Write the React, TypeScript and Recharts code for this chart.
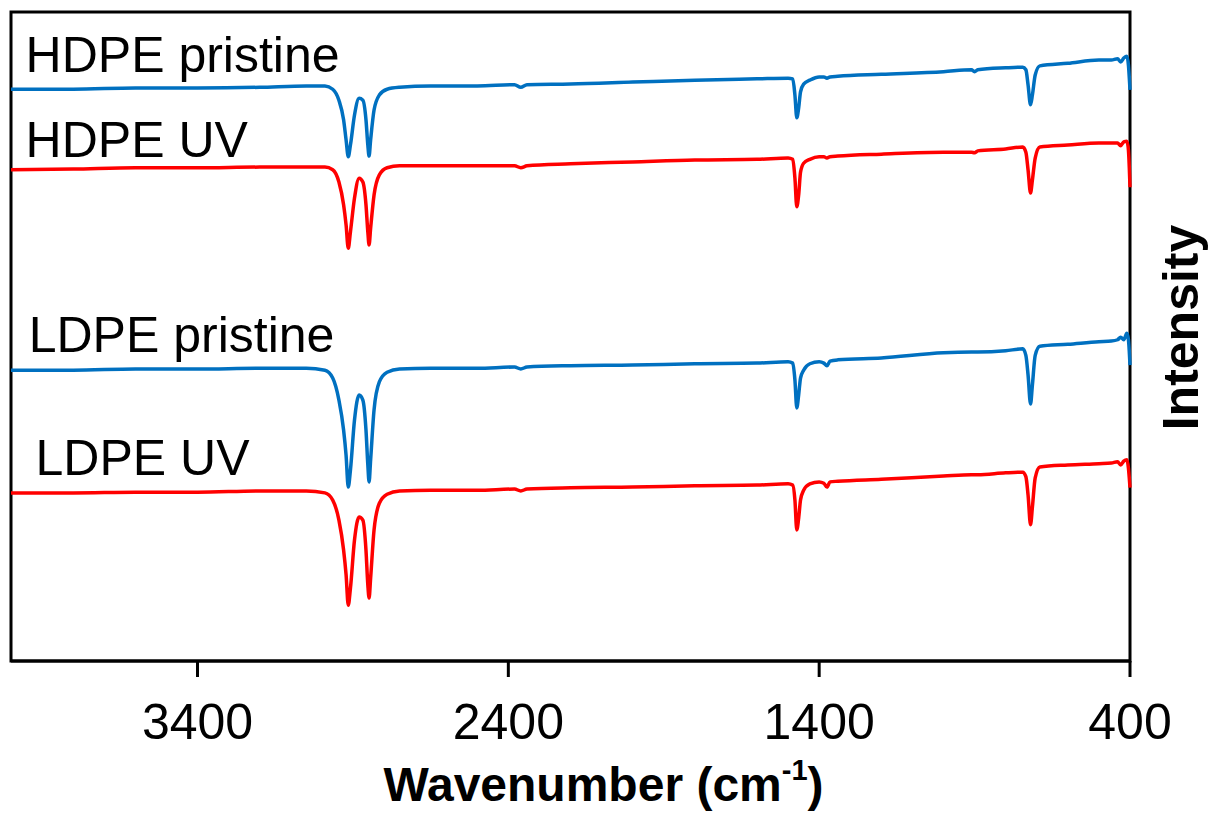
import { LineChart, Line, XAxis, YAxis, ReferenceArea, ReferenceDot } from 'recharts';

// wavenumber (cm-1), shared by all four spectra
const wavenumbers = [
  4000, 3800, 3600, 3400, 3200, 3050, 2990, 2965, 2945, 2930, 2922, 2915, 2908, 2895, 2880, 2868, 2858,
  2852, 2848, 2843, 2832, 2815, 2790, 2750, 2650, 2500, 2380, 2360, 2340, 2200, 2000, 1800, 1600, 1500,
  1485, 1478, 1472, 1466, 1460, 1450, 1430, 1400, 1385, 1375, 1365, 1340, 1200, 1000, 910, 900, 890, 800,
  745, 735, 728, 720, 714, 705, 690, 600, 500, 460, 440, 430, 420, 410, 405, 400,
];

// stacked intensity (a.u.)
const hdpePristine = [
  88.1, 88.1, 88.3, 88.3, 88.4, 88.6, 88.6, 88.1, 86.4, 83.4, 80.3, 77.7, 79.5, 84.1, 86.7, 86.4, 83.4,
  79.5, 77.8, 80.3, 84.9, 87.2, 88.1, 88.4, 88.6, 88.6, 88.8, 88.4, 88.8, 88.9, 89.2, 89.5, 89.7, 89.8,
  89.7, 87.2, 83.7, 85.2, 87.7, 88.9, 89.5, 90.0, 90.0, 89.8, 90.0, 90.1, 90.4, 90.8, 91.1, 90.8, 91.1, 91.4,
  91.5, 91.1, 88.8, 85.7, 87.2, 90.3, 91.7, 92.1, 92.6, 92.6, 92.8, 92.3, 92.9, 93.2, 91.8, 88.0,
];
const hdpeUv = [
  75.7, 75.8, 76.0, 76.0, 76.1, 76.1, 76.1, 75.7, 73.8, 70.3, 67.2, 63.6, 66.1, 71.3, 74.4, 73.8, 70.3,
  66.1, 64.1, 66.7, 71.8, 74.9, 76.0, 76.3, 76.3, 76.3, 76.3, 76.0, 76.3, 76.6, 76.9, 77.2, 77.3, 77.5,
  77.3, 74.4, 70.0, 71.8, 75.3, 76.7, 77.3, 77.7, 77.7, 77.5, 77.7, 77.8, 78.1, 78.4, 78.4, 78.3, 78.6, 78.9,
  79.2, 78.4, 75.7, 72.1, 74.1, 77.5, 79.2, 79.5, 79.8, 79.8, 79.8, 79.4, 80.0, 80.1, 78.7, 73.0,
];
const ldpePristine = [
  44.8, 44.8, 45.0, 45.0, 45.1, 45.1, 44.8, 43.6, 40.2, 35.6, 31.7, 26.8, 29.4, 37.1, 41.0, 40.2, 35.6,
  30.2, 27.6, 31.0, 38.7, 43.0, 44.5, 45.0, 45.1, 45.1, 45.3, 45.0, 45.3, 45.5, 45.6, 45.8, 45.9, 46.1,
  45.9, 43.3, 39.0, 41.0, 43.6, 44.8, 45.8, 46.1, 45.9, 45.5, 46.2, 46.4, 46.7, 47.5, 47.6, 47.6, 47.6, 47.8,
  48.1, 47.1, 44.1, 39.6, 42.5, 47.1, 48.5, 48.8, 49.2, 49.3, 49.5, 49.9, 49.5, 50.5, 49.5, 45.6,
];
const ldpeUv = [
  25.9, 25.9, 26.0, 26.0, 26.2, 26.2, 25.9, 24.8, 21.7, 17.1, 13.3, 8.6, 11.2, 18.6, 22.2, 21.7, 17.1,
  11.7, 9.7, 12.8, 20.2, 24.3, 25.7, 26.2, 26.3, 26.3, 26.5, 26.2, 26.5, 26.7, 26.8, 27.0, 27.1, 27.3,
  27.1, 24.8, 20.2, 22.0, 24.8, 26.3, 27.3, 27.6, 27.4, 26.8, 27.6, 27.7, 28.0, 28.5, 28.7, 28.7, 28.7, 29.0,
  29.1, 28.4, 25.6, 21.0, 23.7, 28.2, 29.9, 30.2, 30.4, 30.5, 30.7, 30.2, 30.8, 31.0, 29.7, 26.7,
];

const xTicks = [3400, 2400, 1400, 400];

// sample names, placed at (wavenumber, intensity) of the text baseline start
const labelNames = ['HDPE pristine', 'HDPE UV', 'LDPE pristine', 'LDPE UV'];
const labelWn = [3953, 3953, 3943, 3921];
const labelLevel = [90.8, 77.7, 47.6, 28.7];

const BLUE = '#0070C0';
const RED = '#FF0000';
const FONT = '"Liberation Sans", Arial, sans-serif';

const data = wavenumbers.map((wn, i) => ({
  wn,
  hdpePristine: hdpePristine[i],
  hdpeUv: hdpeUv[i],
  ldpePristine: ldpePristine[i],
  ldpeUv: ldpeUv[i],
}));

const series = [
  { key: 'hdpePristine', color: BLUE },
  { key: 'hdpeUv', color: RED },
  { key: 'ldpePristine', color: BLUE },
  { key: 'ldpeUv', color: RED },
];

function XTitle(props: any) {
  const vb = props.viewBox;
  const cx = vb.x + vb.width / 2 + 33;
  return (
    <text x={cx} y={801} textAnchor="middle" fontFamily={FONT} fontSize={48} fontWeight="bold" fill="#000">
      Wavenumber (cm
      <tspan fontSize={29} dy={-21}>-1</tspan>
      <tspan dy={21}>)</tspan>
    </text>
  );
}

function YTitle(props: any) {
  const vb = props.viewBox;
  const x = vb.x + 68;
  const y = vb.y + vb.height / 2 - 9;
  return (
    <text x={x} y={y} transform={`rotate(-90 ${x} ${y})`} textAnchor="middle"
      fontFamily={FONT} fontSize={50} fontWeight="bold" fill="#000">
      Intensity
    </text>
  );
}

export default function App() {
  return (
    <div style={{ position: 'absolute', left: 0, top: 0, background: '#fff' }}>
      <LineChart width={1210} height={816} data={data} margin={{ top: 12, right: 0, bottom: 0, left: 11 }}>
        <XAxis
          dataKey="wn" type="number" domain={[400, 4000]} reversed ticks={xTicks} height={155}
          tickSize={16} tickMargin={26} interval={0}
          axisLine={{ stroke: '#000', strokeWidth: 3 }}
          tickLine={{ stroke: '#000', strokeWidth: 3 }}
          tick={{ fill: '#000', fontSize: 50, fontFamily: FONT }}
          label={<XTitle />}
        />
        <YAxis
          orientation="right" domain={[0, 100]} width={80} tick={false} axisLine={false} tickLine={false}
          label={<YTitle />}
        />
        <ReferenceArea x1={4000} x2={400} y1={0} y2={100} fill="none" fillOpacity={0} stroke="#000" strokeWidth={3} />
        {series.map(s => (
          <Line key={s.key} type="monotone" dataKey={s.key} stroke={s.color} strokeWidth={3.5}
            dot={false} activeDot={false} isAnimationActive={false} />
        ))}
        {labelNames.map((name, i) => (
          <ReferenceDot key={name} x={labelWn[i]} y={labelLevel[i]} r={1} fill="none" stroke="none"
            label={(p: any) => (
              <text x={p.viewBox.x + 1} y={p.viewBox.y + 1} fontFamily={FONT} fontSize={50} fill="#000">{name}</text>
            )}
          />
        ))}
      </LineChart>
    </div>
  );
}
